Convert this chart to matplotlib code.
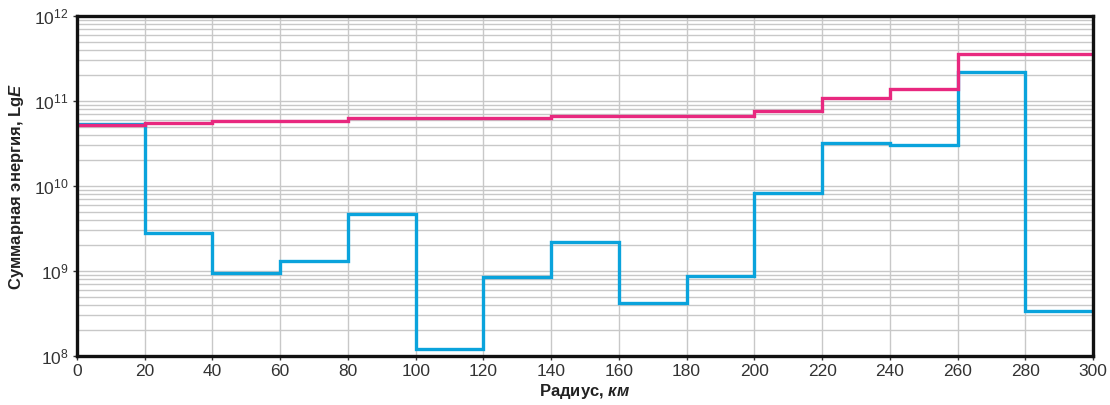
import numpy as np
import matplotlib
matplotlib.use("Agg")
import matplotlib.pyplot as plt
from matplotlib.ticker import LogLocator, MultipleLocator, NullFormatter

plt.rcParams['font.family'] = ['Liberation Sans', 'DejaVu Sans']
plt.rcParams['mathtext.fontset'] = 'custom'
plt.rcParams['mathtext.rm'] = 'Liberation Sans'
plt.rcParams['mathtext.it'] = 'Liberation Sans:italic:bold'
plt.rcParams['mathtext.bf'] = 'Liberation Sans:bold'

# Границы интервалов по радиусу, км
radius_edges = [0, 20, 40, 60, 80, 100, 120, 140, 160, 180, 200, 220, 240, 260, 280, 300]

# Суммарная энергия (накопленная) - розовая
energy_cumulative = [5.2e10, 5.5e10, 5.75e10, 5.75e10, 6.3e10, 6.3e10, 6.3e10,
                     6.6e10, 6.6e10, 6.6e10, 7.6e10, 1.08e11, 1.38e11, 3.6e11, 3.6e11]

# Энергия по интервалам - голубая
energy_interval = [5.3e10, 2.8e9, 9.6e8, 1.3e9, 4.7e9, 1.2e8, 8.5e8,
                   2.2e9, 4.2e8, 8.7e8, 8.3e9, 3.2e10, 3.05e10, 2.2e11, 3.4e8]

fig = plt.figure(figsize=(11.1, 4.05), dpi=100)
ax = fig.add_axes([0.0694, 0.121, 0.9153, 0.8395])

ax.stairs(energy_interval, radius_edges, baseline=None, color='#0AA3DC', linewidth=2.4, zorder=3)
ax.stairs(energy_cumulative, radius_edges, baseline=None, color='#E8287F', linewidth=2.4, zorder=4)

ax.set_yscale('log')
ax.set_xlim(0, 300)
ax.set_ylim(1e8, 1e12)
ax.xaxis.set_major_locator(MultipleLocator(20))
ax.yaxis.set_major_locator(LogLocator(base=10, numticks=10))
ax.yaxis.set_minor_locator(LogLocator(base=10, subs=np.arange(2, 10), numticks=20))
ax.yaxis.set_minor_formatter(NullFormatter())

ax.grid(True, which='major', color='#c8c8c8', linewidth=1.0)
ax.grid(True, which='minor', axis='y', color='#c8c8c8', linewidth=1.0)
ax.set_axisbelow(True)

for s in ax.spines.values():
    s.set_linewidth(2.4)
    s.set_color('#111111')
    s.set_zorder(5)

ax.tick_params(axis='both', which='major', length=3, width=1, colors='#333333',
               labelsize=12.5, pad=3)
ax.tick_params(axis='y', which='minor', length=0)

ax.set_xlabel(r"Радиус, $\mathit{км}$", fontsize=12, fontweight='bold', color='#222222', labelpad=2)
ax.set_ylabel(r"Суммарная энергия, Lg$\mathit{E}$", fontsize=12, fontweight='bold', color='#222222', labelpad=6)

fig.savefig("out.png", dpi=100)
